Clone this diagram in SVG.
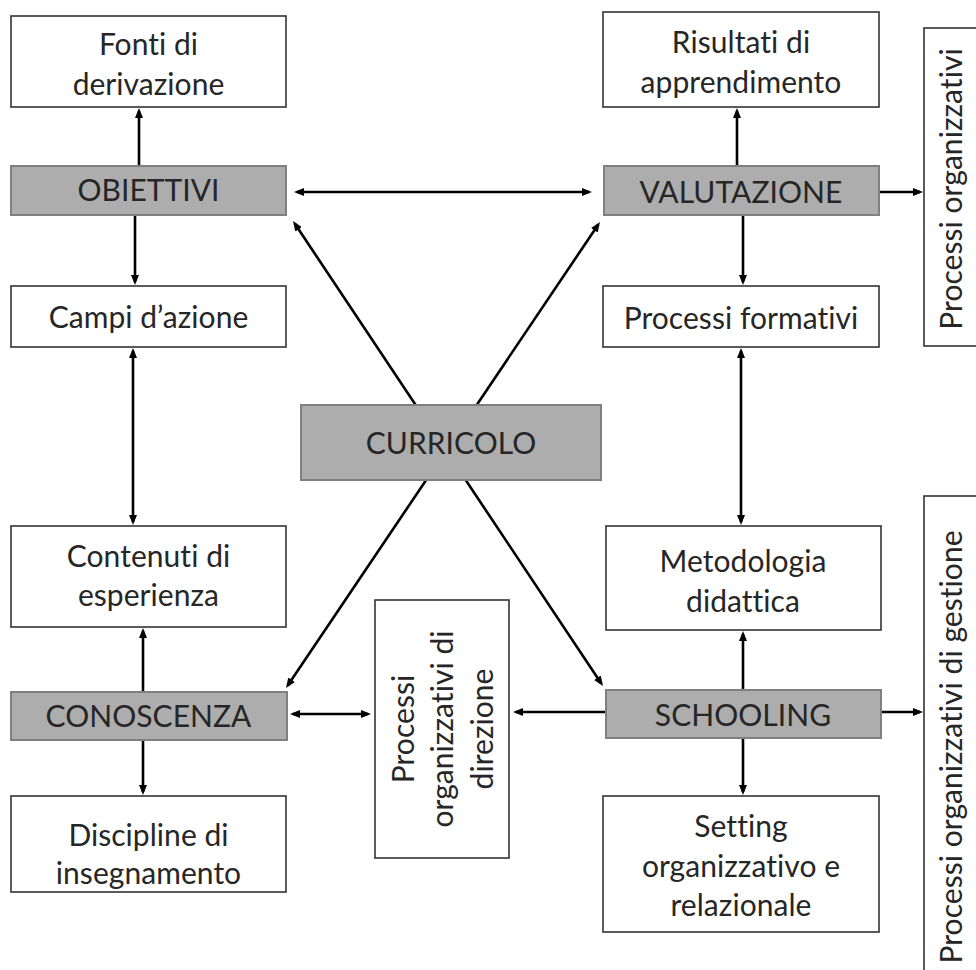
<svg xmlns="http://www.w3.org/2000/svg" width="976" height="970" viewBox="0 0 976 970">
<defs>
<style>
.box{fill:#ffffff;stroke:#333333;stroke-width:1.6}
.key{fill:#adadad;stroke:#808080;stroke-width:2}
.t{font-family:Lato,"Liberation Sans",sans-serif;font-size:30px;fill:#262626;text-anchor:middle;letter-spacing:0.05px;font-variant-ligatures:none;font-feature-settings:"liga" 0,"clig" 0,"dlig" 0,"calt" 0}
.c{stroke:#000000;stroke-width:2.6;fill:none}
.a1{marker-end:url(#ah)}
.a2{marker-start:url(#ah);marker-end:url(#ah)}
</style>
<marker id="ah" viewBox="0 0 10 8" refX="7" refY="4" markerWidth="10" markerHeight="8" markerUnits="userSpaceOnUse" orient="auto-start-reverse">
<path d="M0,0 L10,4 L0,8 z" fill="#000000"/>
</marker>
</defs>
<rect width="976" height="970" fill="#ffffff"/>

<g id="connectors">
<line class="c a2" x1="297" y1="192" x2="589" y2="192"/>
<line class="c a1" x1="879" y1="192" x2="920" y2="192"/>
<line class="c a1" x1="139" y1="166" x2="139" y2="111"/>
<line class="c a1" x1="135" y1="215" x2="135" y2="282"/>
<line class="c a2" x1="133" y1="351" x2="133" y2="522"/>
<line class="c a1" x1="143" y1="691" x2="143" y2="631"/>
<line class="c a1" x1="143" y1="740" x2="143" y2="792"/>
<line class="c a2" x1="293" y1="714" x2="368" y2="714"/>
<line class="c a1" x1="605" y1="712" x2="516" y2="712"/>
<line class="c a1" x1="879" y1="712" x2="920" y2="712"/>
<line class="c a1" x1="743" y1="690" x2="743" y2="634"/>
<line class="c a1" x1="743" y1="738" x2="743" y2="792"/>
<line class="c a2" x1="741" y1="351" x2="741" y2="522"/>
<line class="c a1" x1="737" y1="166" x2="737" y2="111"/>
<line class="c a1" x1="743" y1="215" x2="743" y2="282"/>
<line class="c a2" x1="294.7" y1="223.5" x2="601.3" y2="683.5"/>
<line class="c a2" x1="598.3" y1="224.5" x2="287.7" y2="685.5"/>
</g>

<g id="fonti">
<rect class="box" x="11" y="16" width="275" height="91"/>
<text class="t" x="148.5" y="55">Fonti di</text>
<text class="t" x="148.5" y="95">derivazione</text>
</g>
<g id="obiettivi">
<rect class="key" x="11" y="166" width="275" height="49"/>
<text class="t" x="148.5" y="201">OBIETTIVI</text>
</g>
<g id="campi">
<rect class="box" x="11" y="286" width="275" height="61"/>
<text class="t" x="148.5" y="328">Campi d’azione</text>
</g>
<g id="contenuti">
<rect class="box" x="11" y="526" width="275" height="101"/>
<text class="t" x="148.5" y="567">Contenuti di</text>
<text class="t" x="148.5" y="606">esperienza</text>
</g>
<g id="conoscenza">
<rect class="key" x="11" y="692" width="276" height="48"/>
<text class="t" x="148.5" y="727">CONOSCENZA</text>
</g>
<g id="discipline">
<rect class="box" x="11" y="796" width="275" height="96"/>
<text class="t" x="148.5" y="846">Discipline di</text>
<text class="t" x="148.5" y="884">insegnamento</text>
</g>

<g id="risultati">
<rect class="box" x="603" y="12" width="276" height="95"/>
<text class="t" x="741" y="53">Risultati di</text>
<text class="t" x="741" y="93">apprendimento</text>
</g>
<g id="valutazione">
<rect class="key" x="604" y="166" width="275" height="49"/>
<text class="t" x="741" y="203">VALUTAZIONE</text>
</g>
<g id="processi-formativi">
<rect class="box" x="603" y="286" width="276" height="61"/>
<text class="t" x="741" y="329">Processi formativi</text>
</g>
<g id="metodologia">
<rect class="box" x="606" y="526" width="275" height="104"/>
<text class="t" x="743" y="572">Metodologia</text>
<text class="t" x="743" y="612">didattica</text>
</g>
<g id="schooling">
<rect class="key" x="606" y="690" width="275" height="48"/>
<text class="t" x="743" y="726">SCHOOLING</text>
</g>
<g id="setting">
<rect class="box" x="603" y="796" width="276" height="136"/>
<text class="t" x="741" y="837">Setting</text>
<text class="t" x="741" y="877">organizzativo e</text>
<text class="t" x="741" y="916">relazionale</text>
</g>

<g id="curricolo">
<rect class="key" x="301" y="405" width="300" height="75"/>
<text class="t" x="451" y="454">CURRICOLO</text>
</g>

<g id="direzione">
<rect class="box" x="375" y="600" width="134" height="258"/>
<g transform="translate(442,729) rotate(-90)">
<text class="t" x="0" y="-28">Processi</text>
<text class="t" x="0" y="11">organizzativi di</text>
<text class="t" x="0" y="51">direzione</text>
</g>
</g>

<g id="processi-organizzativi">
<rect class="box" x="924" y="28" width="100" height="318"/>
<text class="t" transform="translate(962,189) rotate(-90)" x="0" y="0">Processi organizzativi</text>
</g>
<g id="processi-gestione">
<rect class="box" x="924" y="496" width="100" height="520"/>
<text class="t" transform="translate(962,747) rotate(-90)" x="0" y="0">Processi organizzativi di gestione</text>
</g>
</svg>
